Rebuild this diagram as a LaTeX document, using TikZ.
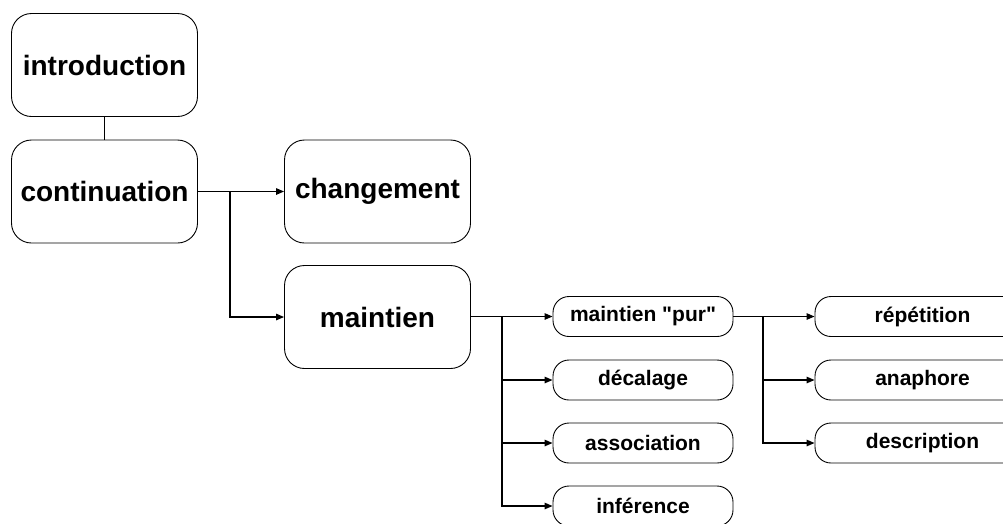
\documentclass[tikz,border=0pt]{standalone}
\usepackage{fontspec}
\setmainfont{Liberation Sans}[Ligatures=TeXOff]
\usetikzlibrary{arrows.meta}
\begin{document}
\begin{tikzpicture}[x=1pt,y=-1pt,
  bigbox/.style={draw=black,line width=0.9pt,rounded corners=20pt,minimum width=186pt,minimum height=103pt,inner sep=0pt,font=\fontsize{28}{30}\selectfont\bfseries},
  pill/.style={draw=black,line width=0.9pt,rounded corners=16pt,minimum width=180pt,minimum height=40pt,inner sep=0pt,font=\fontsize{21}{23}\selectfont\bfseries},
  rpill/.style={pill,minimum width=215pt},
  conn/.style={line width=1.3pt},
  arr/.style={conn,-{Triangle[length=8pt,width=6.5pt]}}]
\useasboundingbox (0,0) rectangle (1003,523);
\clip (0,0) rectangle (1003,523);
\fill[white] (0,0) rectangle (1003,523);
\node[bigbox] (intro) at (104.5,65) {introduction};
\node[bigbox] (cont) at (104.5,191.5) {continuation};
\node[bigbox] (chg) at (377.5,191.5) {changement};
\node[bigbox] (main) at (377.5,317) {maintien};
\node[pill] (pur) at (643,316.5) {maintien "pur"};
\node[pill] (dec) at (643,380) {décalage};
\node[pill] (ass) at (643,443) {association};
\node[pill] (inf) at (643,506) {inférence};
\node[rpill] (rep) at (922.5,316.5) {répétition\hspace{36pt}};
\node[rpill] (ana) at (922.5,380) {anaphore\hspace{36pt}};
\node[rpill] (des) at (922.5,443) {description\hspace{36pt}};
\coordinate (j1) at (230,191.5);
\coordinate (j2) at (502,316.5);
\coordinate (j3) at (763,316.5);
\draw[conn] (intro.south) -- (cont.north);
\draw[conn] (cont.east) -- (j1);
\draw[arr] (j1) -- (chg.west);
\draw[arr] (j1) |- (main.west);
\draw[conn] (main.east |- j2) -- (j2);
\draw[arr] (j2) -- (pur.west);
\draw[arr] (j2) |- (dec.west);
\draw[arr] (j2) |- (ass.west);
\draw[arr] (j2) |- (inf.west);
\draw[conn] (pur.east) -- (j3);
\draw[arr] (j3) -- (rep.west);
\draw[arr] (j3) |- (ana.west);
\draw[arr] (j3) |- (des.west);
\end{tikzpicture}
\end{document}
